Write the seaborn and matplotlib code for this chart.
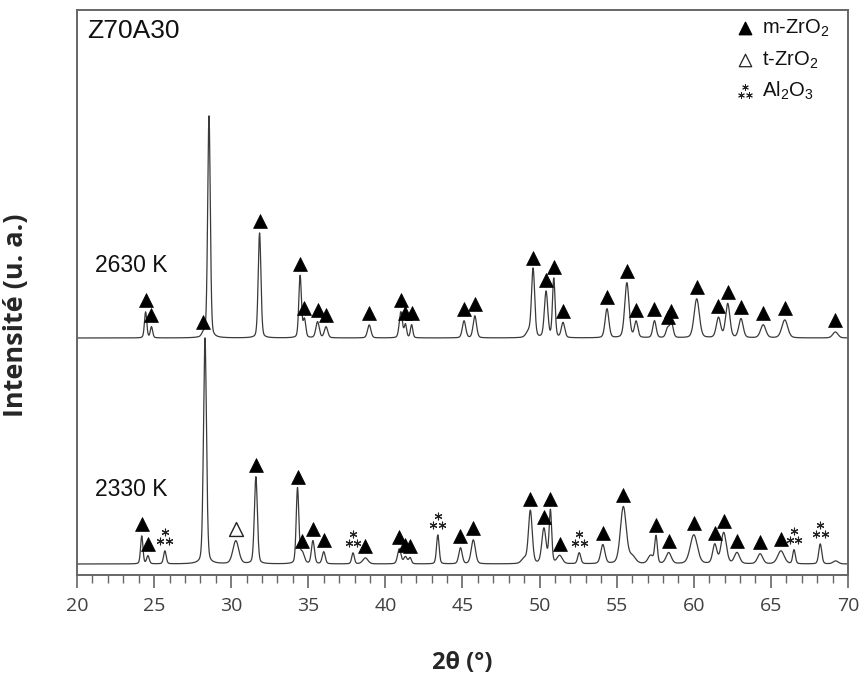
import numpy as np
import pandas as pd
import matplotlib
matplotlib.use("Agg")
import matplotlib.pyplot as plt
import seaborn as sns
from matplotlib.ticker import MultipleLocator

# ---------------- data ----------------
# 2630 K pattern: peak position (deg), height (a.u.), FWHM (deg), phase
pos_2630 = [24.45, 24.83, 28.20, 28.56, 31.84, 34.47, 34.75, 35.60, 36.15, 38.95,
            41.00, 41.30, 41.70, 45.10, 45.80, 49.30, 49.58, 50.42, 50.92, 51.52,
            54.37, 55.66, 56.26, 57.45, 58.30, 58.55, 60.19, 61.60, 62.20, 63.06,
            64.50, 65.90, 69.18]
h_2630 = [26, 11, 4, 222, 105, 62, 18, 16, 11, 13,
          26, 13, 13, 17, 22, 6, 68, 46, 59, 15,
          29, 55, 16, 17, 9, 15, 39, 20, 34, 19,
          13, 18, 6]
w_2630 = [0.18, 0.18, 0.25, 0.20, 0.21, 0.20, 0.20, 0.26, 0.26, 0.26,
          0.24, 0.18, 0.18, 0.26, 0.26, 0.40, 0.24, 0.26, 0.20, 0.26,
          0.29, 0.33, 0.26, 0.26, 0.26, 0.26, 0.40, 0.33, 0.33, 0.33,
          0.40, 0.45, 0.40]
ph_2630 = ["m", "m", "m", "", "m", "m", "m", "m", "m", "m",
           "m", "m", "m", "m", "m", "", "m", "m", "m", "m",
           "m", "m", "m", "m", "m", "m", "m", "m", "m", "m",
           "m", "m", "m"]

# 2330 K pattern
pos_2330 = [24.20, 24.60, 25.70, 28.30, 30.30, 31.60, 34.30, 34.60, 35.30, 36.00,
            37.90, 38.70, 40.90, 41.30, 41.60, 43.40, 44.87, 45.70, 49.00, 49.40,
            50.28, 50.70, 51.30, 52.57, 54.10, 55.43, 56.00, 57.20, 57.55, 58.37,
            60.00, 61.36, 61.94, 62.80, 64.30, 65.65, 66.50, 68.20, 69.20]
h_2330 = [28, 8, 13, 226, 23, 87, 75, 11, 23, 12,
          11, 6, 15, 7, 6, 29, 16, 24, 5, 53,
          35, 53, 8, 11, 19, 57, 7, 8, 27, 11,
          29, 19, 31, 11, 10, 13, 14, 20, 3]
w_2330 = [0.18, 0.20, 0.20, 0.23, 0.45, 0.23, 0.20, 0.32, 0.23, 0.23,
          0.20, 0.40, 0.26, 0.26, 0.20, 0.20, 0.26, 0.32, 0.40, 0.29,
          0.32, 0.20, 0.40, 0.23, 0.32, 0.45, 0.50, 0.40, 0.20, 0.40,
          0.55, 0.32, 0.40, 0.40, 0.40, 0.50, 0.20, 0.23, 0.40]
ph_2330 = ["m", "m", "a", "", "t", "m", "m", "m", "m", "m",
           "a", "m", "m", "m", "m", "a", "m", "m", "", "m",
           "m", "m", "m", "a", "m", "m", "", "", "m", "m",
           "m", "m", "m", "m", "m", "m", "a", "a", ""]

samples = ["2630 K", "2330 K"]
offsets = [226, 0]
legend_labels = ["m-ZrO$_2$", "t-ZrO$_2$", "Al$_2$O$_3$"]

# ---------------- style ----------------
sns.set_style("white")
plt.rcParams["font.family"] = ["Open Sans", "DejaVu Sans"]
plt.rcParams["mathtext.fontset"] = "custom"
plt.rcParams["mathtext.rm"] = "Liberation Sans"
plt.rcParams["mathtext.it"] = "Liberation Sans:italic"

fig = plt.figure(figsize=(8.64, 6.76), dpi=100)
ax = fig.add_axes([77 / 864, 101 / 676, 771 / 864, 565 / 676])

theta = np.arange(20.0, 70.0001, 0.01)


def pattern(pos, h, w):
    y = np.zeros_like(theta)
    eta = 0.25
    for p, a, f in zip(pos, h, w):
        g = np.exp(-4 * np.log(2) * ((theta - p) / f) ** 2)
        l = 1.0 / (1.0 + 4 * ((theta - p) / f) ** 2)
        y += a * ((1 - eta) * g + eta * l)
    return y


sets = [(pos_2630, h_2630, w_2630, ph_2630), (pos_2330, h_2330, w_2330, ph_2330)]
frames = []
marks = []
for name, off, (p, h, w, ph) in zip(samples, offsets, sets):
    frames.append(pd.DataFrame({"theta": theta, "I": pattern(p, h, w) + off, "sample": name}))
    for xx, hh, kk in zip(p, h, ph):
        if kk:
            marks.append({"x": xx, "top": hh + off, "phase": kk})
df = pd.concat(frames, ignore_index=True)
mk = pd.DataFrame(marks)

line_col = "#3a3a3a"
for name in samples:
    sns.lineplot(data=df[df["sample"] == name], x="theta", y="I", color=line_col,
                 lw=0.9, ax=ax, estimator=None, legend=False)

px_per_deg = 771 / 50.0
m = mk[mk.phase == "m"]
sns.scatterplot(x=m.x, y=m.top + 12, marker="^", s=100, color="black",
                edgecolor="black", linewidth=0.5, ax=ax, legend=False, zorder=5)
t = mk[mk.phase == "t"]
sns.scatterplot(x=t.x, y=t.top + 12, marker="^", s=100, facecolor="white",
                edgecolor="#222222", linewidth=1.0, ax=ax, legend=False, zorder=5)
a = mk[mk.phase == "a"]
dx = 4.4 / px_per_deg
ax_x = np.concatenate([a.x.values, a.x.values - dx, a.x.values + dx])
ax_y = np.concatenate([a.top.values + 19, a.top.values + 10, a.top.values + 10])
sns.scatterplot(x=ax_x, y=ax_y, marker=(6, 2, 0), s=24, color="#222222",
                edgecolor="#222222", linewidth=0.8, ax=ax, legend=False, zorder=5)

# ---------------- axes ----------------
ax.set_xlim(20, 70)
ax.set_ylim(-11, 554)
ax.set_yticks([])
ax.xaxis.set_major_locator(MultipleLocator(5))
ax.xaxis.set_minor_locator(MultipleLocator(1))
frame_col = "#666666"
for s in ax.spines.values():
    s.set_color(frame_col)
    s.set_linewidth(1.4)
ax.tick_params(axis="x", which="major", direction="out", length=9.5, width=1.2,
               color=frame_col, labelsize=14, labelcolor="#404040", pad=6, bottom=True)
ax.tick_params(axis="x", which="minor", direction="out", length=5.5, width=1.0,
               color=frame_col, bottom=True)
ax.set_xlabel("2θ (°)", fontsize=17, fontweight="bold", labelpad=26)
ax.set_ylabel("Intensité (u. a.)", fontsize=19.5, fontweight="bold")
ax.yaxis.set_label_coords(-0.062, (575 - 315) / 565)

txt_font = ["Liberation Sans", "DejaVu Sans"]
ax.text(10 / 771, 0.962, "Z70A30", transform=ax.transAxes, fontsize=19,
        family=txt_font, va="center", ha="left", color="#111111")
ax.text(18 / 771, (575 - 265) / 565, "2630 K", transform=ax.transAxes, fontsize=16.5,
        family=txt_font, va="center", ha="left", color="#111111")
ax.text(18 / 771, (575 - 489) / 565, "2330 K", transform=ax.transAxes, fontsize=16.5,
        family=txt_font, va="center", ha="left", color="#111111")

# legend (manual)
lx, tx = (745 - 77) / 771, (762 - 77) / 771
rows = [(575 - 28) / 565, (575 - 60) / 565, (575 - 91) / 565]
ax.scatter([lx], [rows[0]], marker="^", s=80, color="black", transform=ax.transAxes, clip_on=False)
ax.scatter([lx], [rows[1]], marker="^", s=80, facecolor="white", edgecolor="#222222",
           linewidth=0.9, transform=ax.transAxes, clip_on=False)
ddx, ddy = 4.0 / 771, 8 / 565
ax.scatter([lx, lx - ddx, lx + ddx], [rows[2] + 0.5 * ddy, rows[2] - 0.5 * ddy, rows[2] - 0.5 * ddy],
           marker=(6, 2, 0), s=18, color="#222222", edgecolor="#222222", linewidth=0.7,
           transform=ax.transAxes, clip_on=False)
for r, lab in zip(rows, legend_labels):
    ax.text(tx, r, lab, transform=ax.transAxes, fontsize=14.5, family=txt_font,
            va="center", ha="left", color="#111111")

fig.savefig("out.png", dpi=100)
